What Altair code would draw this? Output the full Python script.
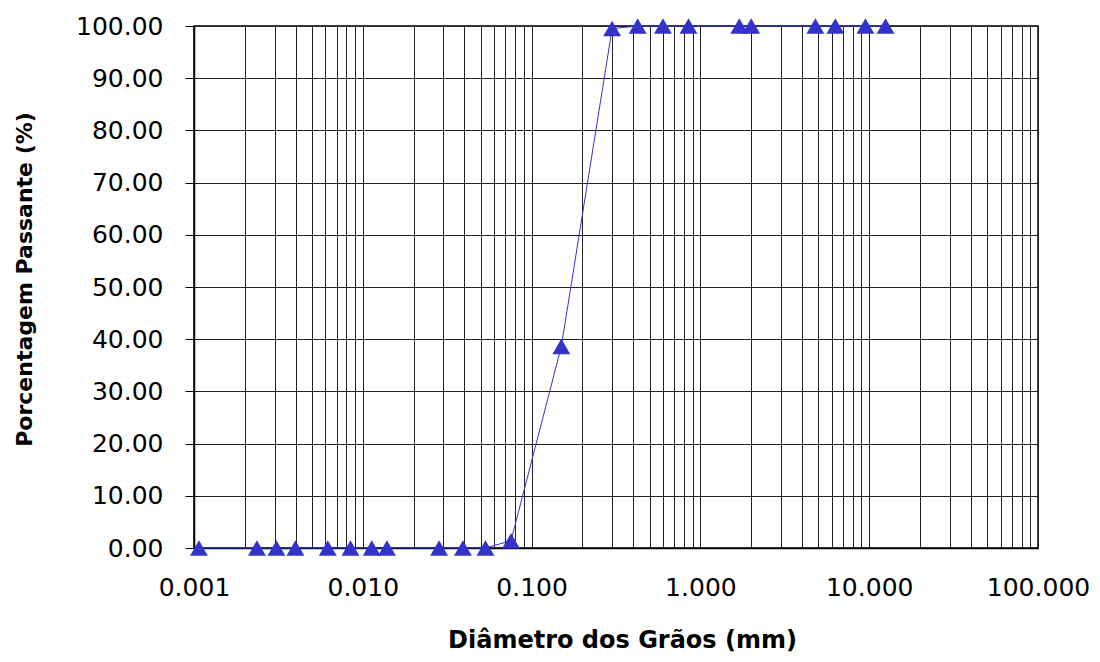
import altair as alt
import pandas as pd

# Grain diameter (mm) and percent passing
diametro = [0.00107, 0.00236, 0.00308, 0.00399, 0.0062, 0.00845, 0.0113, 0.0139,
            0.0283, 0.0392, 0.0533, 0.0755, 0.150, 0.300, 0.425, 0.600, 0.850,
            1.70, 2.00, 4.80, 6.30, 9.50, 12.50]
passante = [0, 0, 0, 0, 0, 0, 0, 0,
            0, 0, 0, 1.4, 38.6, 99.5, 100, 100, 100,
            100, 100, 100, 100, 100, 100]

decades = [0.001, 0.01, 0.1, 1, 10]
multipliers = [1, 2, 3, 4, 5, 6, 7, 8, 9]
x_grid_values = [round(d * m, 6) for d in decades for m in multipliers] + [100]
y_values = [0, 10, 20, 30, 40, 50, 60, 70, 80, 90, 100]

df = pd.DataFrame({"d": diametro, "p": passante})

BLUE = "#3333CC"
FONT = "DejaVu Sans"

x_enc = alt.X(
    "d:Q",
    scale=alt.Scale(type="log", domain=[0.001, 100], nice=False),
    axis=alt.Axis(
        title="Diâmetro dos Grãos (mm)",
        values=x_grid_values,
        labelExpr="abs(log(datum.value)/LN10 - round(log(datum.value)/LN10)) < 1e-6 ? format(datum.value, '.3f') : ''",
        labelOverlap=False,
        labelFlush=False,
        tickSize=0,
        labelPadding=27,
        labelFont=FONT,
        labelFontSize=25,
        labelColor="#000",
        grid=True,
        gridColor="#222",
        gridWidth=1,
        gridOpacity=1,
        domainColor="#000",
        domainWidth=1.5,
        titleFont=FONT,
        titleFontSize=24,
        titleFontWeight="bold",
        titleColor="#000",
        titleX=428,
        titleY=99,
        titleBaseline="alphabetic",
    ),
)

y_enc = alt.Y(
    "p:Q",
    scale=alt.Scale(domain=[0, 100], nice=False),
    axis=alt.Axis(
        title="Porcentagem Passante (%)",
        values=y_values,
        format=".2f",
        tickSize=9,
        tickColor="#000",
        labelPadding=22,
        labelFont=FONT,
        labelFontSize=25,
        labelColor="#000",
        grid=True,
        gridColor="#222",
        gridWidth=1,
        gridOpacity=1,
        domainColor="#000",
        domainWidth=1.5,
        titleFont=FONT,
        titleFontSize=22,
        titleFontWeight="bold",
        titleColor="#000",
        titleAngle=270,
        titleX=-163,
        titleY=253,
        titleBaseline="alphabetic",
    ),
)

base = alt.Chart(df).encode(x=x_enc, y=y_enc)

line = base.mark_line(color=BLUE, strokeWidth=1)
points = base.mark_point(shape="triangle-up", filled=True, fill=BLUE,
                         color=BLUE, opacity=1, size=320)

chart = (
    alt.layer(line, points)
    .properties(
        width=844,
        height=522,
        padding={"left": 186, "top": 18, "right": 54, "bottom": 106},
        autosize=alt.AutoSizeParams(type="none"),
        background="white",
    )
    .configure_view(stroke="#000", strokeWidth=1.5)
)

chart.save("out.html", embed_options={"renderer": "svg", "actions": False})
